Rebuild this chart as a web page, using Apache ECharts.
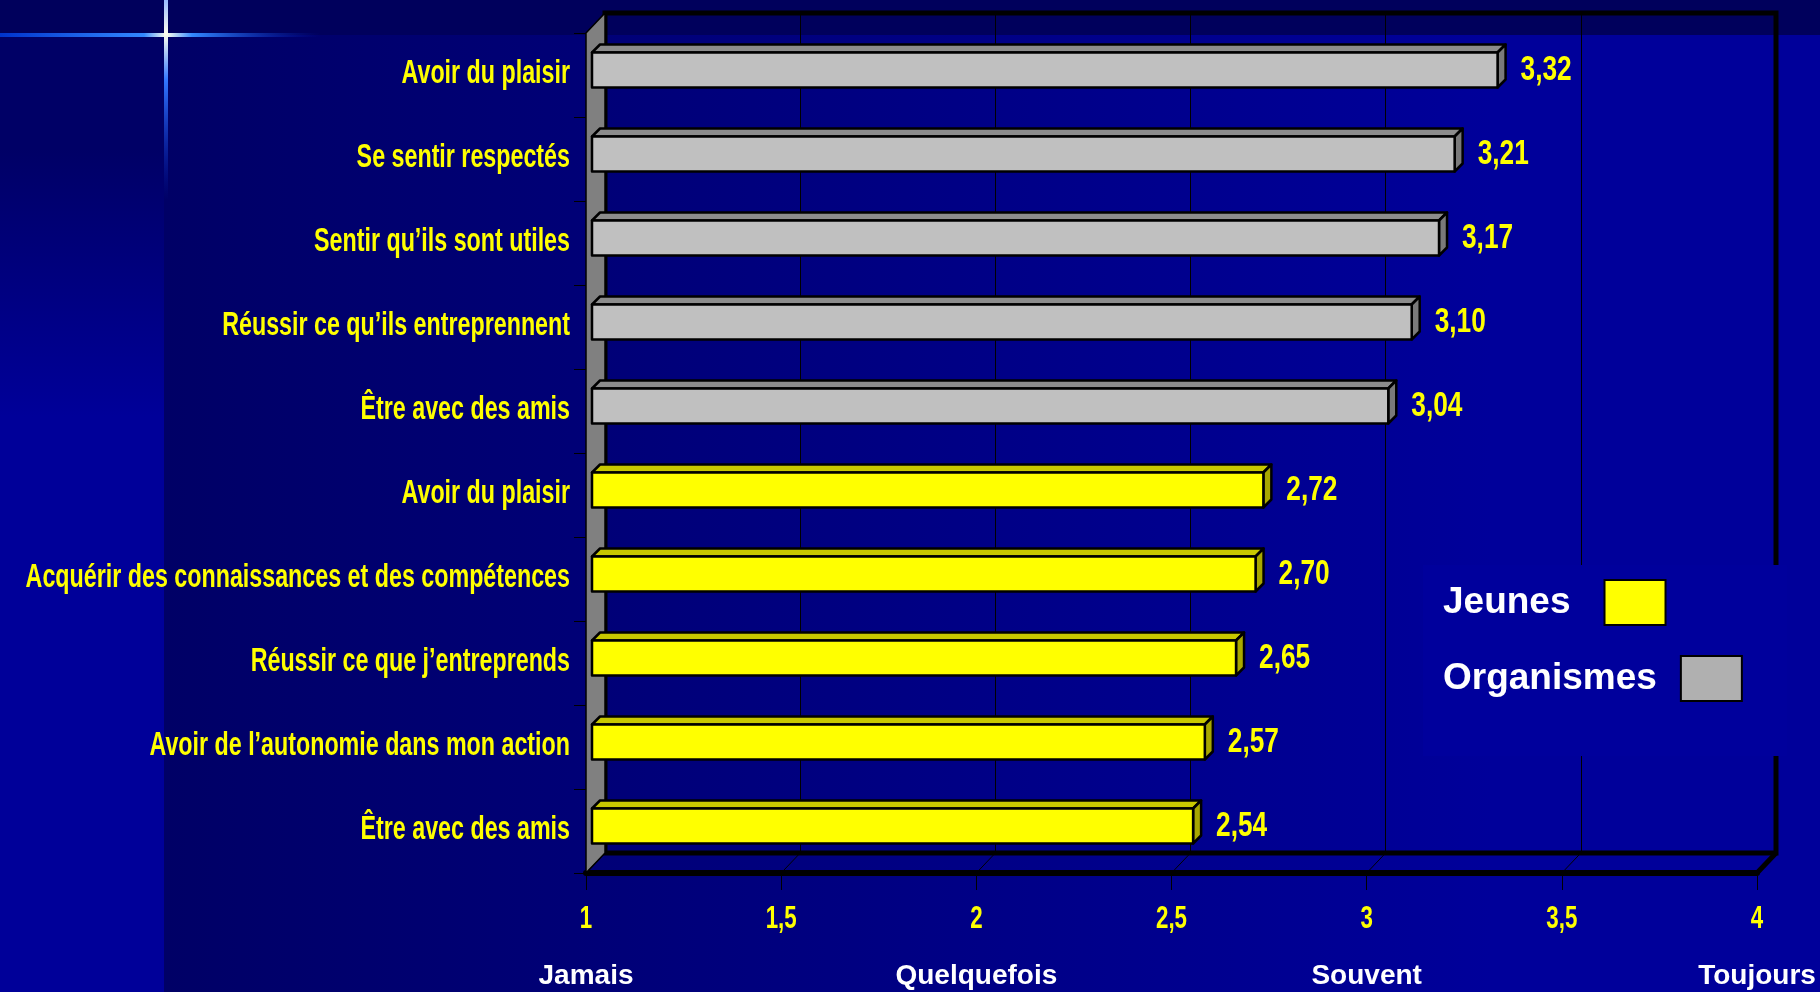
<!DOCTYPE html>
<html>
<head>
<meta charset="utf-8">
<script src="https://cdn.jsdelivr.net/npm/echarts@6/dist/echarts.min.js"></script>
<style>
  html, body { margin: 0; padding: 0; background: #000066; }
  #chart { width: 1820px; height: 992px; }
</style>
</head>
<body>
<div id="chart"></div>
<script>
// catégories, de haut en bas
const categories = [
  'Avoir du plaisir',
  'Se sentir respectés',
  'Sentir qu’ils sont utiles',
  'Réussir ce qu’ils entreprennent',
  'Être avec des amis',
  'Avoir du plaisir',
  'Acquérir des connaissances et des compétences',
  'Réussir ce que j’entreprends',
  'Avoir de l’autonomie dans mon action',
  'Être avec des amis'
];
const organismesValues = [3.32, 3.21, 3.17, 3.10, 3.04, null, null, null, null, null];
const jeunesValues = [null, null, null, null, null, 2.72, 2.70, 2.65, 2.57, 2.54];

// graduations
const xTicks = [1, 1.5, 2, 2.5, 3, 3.5, 4];
const scaleWords = ['Jamais', 'Quelquefois', 'Souvent', 'Toujours'];
const scaleWordValues = [1, 2, 3, 4];

const SANS = "'Liberation Sans', Arial, sans-serif";
const SQUEEZE = 0.75;         // texte jaune étroit (Arial Narrow à l'origine)
const DX = 19, DY = 20;       // profondeur du cadre 3D
const BAR_D = 8;              // profondeur des barres
const BAR_H = 35;             // hauteur de la face avant

const fmt = v => String(v).replace('.', ',');

function toData(values) {
  const out = [];
  values.forEach((v, i) => { if (v != null) out.push([v, i]); });
  return out;
}

function yellowText(text, x, y, size, align, squeeze) {
  return {
    type: 'text', x: x, y: y, scaleX: squeeze || SQUEEZE,
    style: { text: text, fill: '#ffff00', fontSize: size, fontWeight: 'bold', fontFamily: SANS,
             align: align, verticalAlign: 'middle' }
  };
}

// barre "3D" : face avant + dessus + côté
function renderBar(colors) {
  return function (params, api) {
    const v = api.value(0);
    const idx = api.value(1);
    const start = api.coord([1, idx]);
    const end = api.coord([v, idx]);
    const x0 = start[0] + 6, x1 = end[0] + 6;
    const cy = start[1] - 5;
    const top = cy - BAR_H / 2, bot = cy + BAR_H / 2;
    const line = { stroke: '#000', lineWidth: 2.5, lineJoin: 'round' };
    return {
      type: 'group',
      children: [
        { type: 'polygon', shape: { points: [[x0, top], [x0 + BAR_D, top - BAR_D], [x1 + BAR_D, top - BAR_D], [x1, top]] },
          style: Object.assign({ fill: colors.top }, line) },
        { type: 'polygon', shape: { points: [[x1, top], [x1 + BAR_D, top - BAR_D], [x1 + BAR_D, bot - BAR_D], [x1, bot]] },
          style: Object.assign({ fill: colors.side }, line) },
        { type: 'rect', shape: { x: x0, y: top, width: x1 - x0, height: BAR_H },
          style: Object.assign({ fill: colors.front }, line) },
        yellowText(v.toFixed(2).replace('.', ','), x1 + BAR_D + 15, cy, 35, 'left')
      ]
    };
  };
}

// paroi gauche, plancher, étiquettes des axes
function renderFrame(params, api) {
  const cs = params.coordSys;
  const x = cs.x, y = cs.y, bottom = cs.y + cs.height;
  const children = [
    { type: 'polygon', shape: { points: [[x, y], [x + DX, y - DY], [x + DX, bottom - DY], [x, bottom]] },
      style: { fill: '#808080', stroke: '#000', lineWidth: 1.5 } }
  ];
  xTicks.forEach(t => {
    const px = api.coord([t, 0])[0];
    children.push({ type: 'line', shape: { x1: px, y1: bottom, x2: px + DX, y2: bottom - DY },
      style: { stroke: '#000', lineWidth: t === 4 ? 5 : 1 } });
    children.push(yellowText(fmt(t), px, bottom + 46, 31, 'center', 0.72));
  });
  categories.forEach((c, i) => {
    const p = api.coord([1, i]);
    children.push(yellowText(c, p[0] - 16, p[1] - 1, 33, 'right', 0.705));
  });
  return { type: 'group', children: children };
}

const chart = echarts.init(document.getElementById('chart'));

const legendCommon = {
  left: 1443,
  orient: 'vertical',
  align: 'right',
  padding: 0,
  itemWidth: 61,
  itemHeight: 45,
  selectedMode: false,
  z: 6,
  textStyle: { color: '#ffffff', fontSize: 37, fontWeight: 'bold', fontFamily: SANS }
};

const option = {
  backgroundColor: '#000066',
  animation: false,
  graphic: {
    elements: [
      { type: 'rect', z: -10, shape: { x: 0, y: 0, width: 1820, height: 992 },
        style: { fill: new echarts.graphic.LinearGradient(0, 0, 1, 0, [
          { offset: 0.09, color: '#000066' }, { offset: 0.82, color: '#00009a' }, { offset: 1, color: '#00009a' }]) } },
      { type: 'rect', z: -9, shape: { x: 0, y: 0, width: 164, height: 992 },
        style: { fill: new echarts.graphic.LinearGradient(0, 0, 0, 1, [
          { offset: 0.15, color: '#000066' }, { offset: 0.42, color: '#000099' }, { offset: 1, color: '#000099' }]) } },
      { type: 'rect', z: -8, shape: { x: 0, y: 0, width: 1820, height: 35 },
        style: { fill: '#00005c' } },
      { type: 'rect', z: -7, shape: { x: 0, y: 33, width: 320, height: 4 },
        style: { fill: new echarts.graphic.LinearGradient(0, 0, 1, 0, [
          { offset: 0, color: '#0033cc' }, { offset: 0.45, color: '#3388ff' }, { offset: 0.52, color: '#ffffee' },
          { offset: 0.6, color: '#3388ff' }, { offset: 1, color: 'rgba(0,40,200,0)' }]) } },
      { type: 'rect', z: -7, shape: { x: 164, y: 0, width: 4, height: 200 },
        style: { fill: new echarts.graphic.LinearGradient(0, 0, 0, 1, [
          { offset: 0, color: '#99bbff' }, { offset: 0.17, color: '#ffffee' }, { offset: 0.4, color: '#3377ff' },
          { offset: 1, color: 'rgba(0,40,200,0)' }]) } },
      // fond de la légende
      { type: 'rect', z: 5, shape: { x: 1423, y: 565, width: 364, height: 191 },
        style: { fill: '#00009c' } }
    ]
  },
  legend: [
    Object.assign({}, legendCommon, {
      top: 579,
      textStyle: Object.assign({}, legendCommon.textStyle, { padding: [0, 29, 0, 0] }),
      data: [{ name: 'Jeunes', icon: 'rect', itemStyle: { color: '#ffff00', borderColor: '#000', borderWidth: 2 } }]
    }),
    Object.assign({}, legendCommon, {
      top: 655,
      textStyle: Object.assign({}, legendCommon.textStyle, { padding: [0, 19, 0, 0] }),
      data: [{ name: 'Organismes', icon: 'rect', itemStyle: { color: '#b0b0b0', borderColor: '#000', borderWidth: 2 } }]
    })
  ],
  grid: [
    { left: 586, right: 63, top: 33, bottom: 119, outerBoundsMode: 'none' },
    { left: 605, right: 44, top: 13, bottom: 139, outerBoundsMode: 'none',
      show: true, borderColor: '#000', borderWidth: 5, backgroundColor: 'transparent' }
  ],
  xAxis: [
    {
      type: 'value', gridIndex: 0, min: 1, max: 4, interval: 0.5,
      axisLine: { show: true, lineStyle: { color: '#000', width: 6 } },
      axisTick: { show: true, length: 17, lineStyle: { color: '#000', width: 1 } },
      splitLine: { show: false },
      axisLabel: { show: false }
    },
    {
      type: 'value', gridIndex: 0, min: 1, max: 4, interval: 1, position: 'bottom', offset: 89,
      axisLine: { show: false }, axisTick: { show: false }, splitLine: { show: false },
      axisLabel: { color: '#ffffff', fontSize: 28, fontWeight: 'bold', fontFamily: SANS, margin: 0,
                   formatter: v => scaleWords[scaleWordValues.indexOf(v)] || '' }
    },
    {
      type: 'value', gridIndex: 1, min: 1, max: 4, interval: 0.5,
      axisLine: { show: false }, axisTick: { show: false }, axisLabel: { show: false },
      splitLine: { show: true, lineStyle: { color: '#000', width: 1 } }
    }
  ],
  yAxis: [
    {
      type: 'category', gridIndex: 0, data: categories, inverse: true,
      axisLine: { show: false },
      axisTick: { show: true, length: 12, lineStyle: { color: '#000', width: 1 } },
      axisLabel: { show: false }
    },
    { type: 'value', gridIndex: 1, show: false }
  ],
  series: [
    {
      name: 'frame', type: 'custom', xAxisIndex: 0, yAxisIndex: 0, z: 1, silent: true,
      renderItem: renderFrame, data: [[1, 0]], clip: false
    },
    {
      name: 'Organismes', type: 'custom', xAxisIndex: 0, yAxisIndex: 0, z: 3,
      itemStyle: { color: '#c0c0c0' },
      encode: { x: 0, y: 1 },
      renderItem: renderBar({ front: '#c0c0c0', top: '#8c8c8c', side: '#7a7a7a' }),
      data: toData(organismesValues), clip: false
    },
    {
      name: 'Jeunes', type: 'custom', xAxisIndex: 0, yAxisIndex: 0, z: 3,
      itemStyle: { color: '#ffff00' },
      encode: { x: 0, y: 1 },
      renderItem: renderBar({ front: '#ffff00', top: '#c8c800', side: '#a8a800' }),
      data: toData(jeunesValues), clip: false
    }
  ]
};

chart.setOption(option);
</script>
</body>
</html>
